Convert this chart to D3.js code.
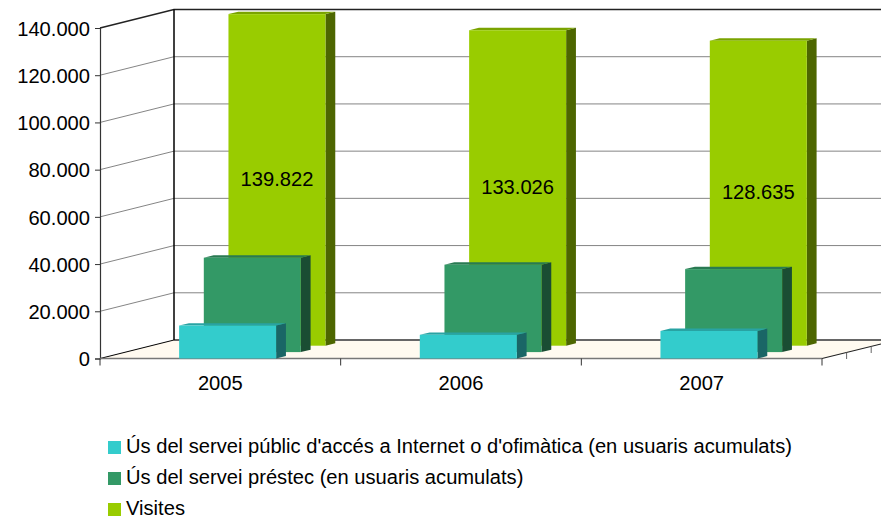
<!DOCTYPE html>
<html>
<head>
<meta charset="utf-8">
<script src="https://cdn.jsdelivr.net/npm/d3@7"></script>
<style>
html, body { margin: 0; padding: 0; background: #fff; }
svg { display: block; }
text { font-family: "Liberation Sans", Arial, sans-serif; fill: #000; }
</style>
</head>
<body>
<svg id="chart" width="881" height="516"></svg>
<script>
// data
var years = ["2005", "2006", "2007"];
var internetUsers = [13900, 10000, 11600];
var loanUsers = [39800, 36850, 35000];
var visits = [139822, 133026, 128635];
var visitLabels = ["139.822", "133.026", "128.635"];
var valueTicks = [0, 20000, 40000, 60000, 80000, 100000, 120000, 140000];
var seriesNames = [
    "Ús del servei públic d'accés a Internet o d'ofimàtica (en usuaris acumulats)",
    "Ús del servei préstec (en usuaris acumulats)",
    "Visites"
];

// front, side and top colours of each series
var palette = [
    { front: "#33cccc", side: "#1a6666", top: "#29a3a3" },
    { front: "#339966", side: "#1a4d33", top: "#297a52" },
    { front: "#99cc00", side: "#4d6600", top: "#7aa300" }
];

var fontSize = "20.15px";
var svg = d3.select("#chart");

// 3D box: depth shift of the back wall
var depthX = 74, depthY = -18.5;
var y = d3.scaleLinear().domain([0, 140000]).range([358.5, 28]);
var x = d3.scaleBand().domain(years).range([100, 822]);

// floor
var floorY = y(0);
svg.append("path")
    .attr("d", d3.line()([[100, floorY], [100 + depthX, floorY + depthY], [881, floorY + depthY], [881, floorY - 14.5], [822, floorY]]) + "Z")
    .attr("fill", "#fffaf0");

// grid on side wall and back wall
var grid = svg.append("g");
valueTicks.slice(1).forEach(function(t) {
    var top = t === 140000;
    grid.append("path")
        .attr("d", d3.line()([[100, y(t)], [100 + depthX, y(t) + depthY], [881, y(t) + depthY]]))
        .attr("fill", "none")
        .attr("stroke", top ? "#222" : "#858585")
        .attr("stroke-width", top ? 1.4 : 1);
});

// back floor edge, corner lines
svg.append("line").attr("x1", 174).attr("x2", 881).attr("y1", floorY + depthY).attr("y2", floorY + depthY)
    .attr("stroke", "#666").attr("stroke-width", 2);
svg.append("line").attr("x1", 174).attr("x2", 174).attr("y1", y(140000) + depthY).attr("y2", floorY + depthY)
    .attr("stroke", "#000").attr("stroke-width", 1.5);
svg.append("line").attr("x1", 100).attr("x2", 174).attr("y1", floorY).attr("y2", floorY + depthY)
    .attr("stroke", "#000").attr("stroke-width", 1);
svg.append("line").attr("x1", 822).attr("x2", 881).attr("y1", floorY).attr("y2", floorY - 14.5)
    .attr("stroke", "#222").attr("stroke-width", 1.2);

// value axis
var yAxis = svg.append("g")
    .attr("transform", "translate(100,0)")
    .call(d3.axisLeft(y).tickValues(valueTicks).tickSize(5).tickPadding(5)
        .tickFormat(function(d) { return d3.format(",")(d).replace(/,/g, "."); }));
yAxis.selectAll("text").style("font-size", fontSize).attr("dy", "0.36em");
yAxis.select(".domain").attr("stroke", "#333").attr("stroke-width", 1.2);
yAxis.selectAll(".tick line").attr("stroke", "#333");

// category axis
var xAxis = svg.append("g")
    .attr("transform", "translate(0," + floorY + ")");
xAxis.append("line").attr("x1", 100).attr("x2", 822).attr("stroke", "#777").attr("stroke-width", 1.5);
xAxis.selectAll(".cat-tick")
    .data(years.map(function(d) { return x(d); }).concat([822]))
    .enter().append("line")
    .attr("x1", function(d) { return d; }).attr("x2", function(d) { return d; })
    .attr("y1", 0).attr("y2", 7)
    .attr("stroke", "#333");
xAxis.selectAll(".cat-label")
    .data(years)
    .enter().append("text")
    .attr("x", function(d) { return x(d) + x.bandwidth() / 2; })
    .attr("y", 31)
    .attr("text-anchor", "middle")
    .style("font-size", fontSize)
    .text(function(d) { return d; });

// depth axis ticks
[1, 2].forEach(function(i) {
    var px = 822 + i * 24.6, py = floorY + i * -6;
    svg.append("line").attr("x1", px).attr("x2", px).attr("y1", py).attr("y2", py + 6.5).attr("stroke", "#666");
});

// bars, back series first so the front ones cover them
var barW = 97, barDX = 9.8, barDY = -2.4;
var slotDX = depthX / 3, slotDY = -6.4, slotInset = 7.3;
var barH = d3.scaleLinear().domain([0, 140000]).range([0, 332]);
var seriesValues = [internetUsers, loanUsers, visits];

function barLeft(yr, s) {
    return x(yr) + x.bandwidth() / 2 - barW / 2 + s * slotDX + slotInset;
}

[2, 1, 0].forEach(function(s) {
    var g = svg.append("g").attr("class", "series-" + s);
    var colors = palette[s];
    var sy = floorY + s * slotDY;
    years.forEach(function(yr, i) {
        var x0 = barLeft(yr, s);
        var h = barH(seriesValues[s][i]);
        var top = sy - h;
        g.append("path").attr("fill", colors.side)
            .attr("d", d3.line()([[x0 + barW, sy], [x0 + barW + barDX, sy + barDY], [x0 + barW + barDX, top + barDY], [x0 + barW, top]]) + "Z");
        g.append("path").attr("fill", colors.top)
            .attr("d", d3.line()([[x0, top], [x0 + barDX, top + barDY], [x0 + barW + barDX, top + barDY], [x0 + barW, top]]) + "Z");
        g.append("rect").attr("fill", colors.front)
            .attr("x", x0).attr("y", top).attr("width", barW).attr("height", h);
    });
});

// labels of the tall bars
svg.append("g").selectAll("text")
    .data(visitLabels)
    .enter().append("text")
    .attr("x", function(d, i) { return barLeft(years[i], 2) + barW / 2; })
    .attr("y", function(d, i) { return floorY + 2 * slotDY - barH(visits[i]) / 2 + 6.2; })
    .attr("text-anchor", "middle")
    .style("font-size", fontSize)
    .text(function(d) { return d; });

// legend
var legend = svg.append("g").selectAll("g")
    .data(seriesNames)
    .enter().append("g")
    .attr("transform", function(d, i) { return "translate(108," + (441 + i * 31) + ")"; });
legend.append("rect")
    .attr("width", 13).attr("height", 13)
    .attr("fill", function(d, i) { return palette[i].front; });
legend.append("text")
    .attr("x", 18).attr("y", 11.7)
    .style("font-size", fontSize)
    .text(function(d) { return d; });
</script>
</body>
</html>
